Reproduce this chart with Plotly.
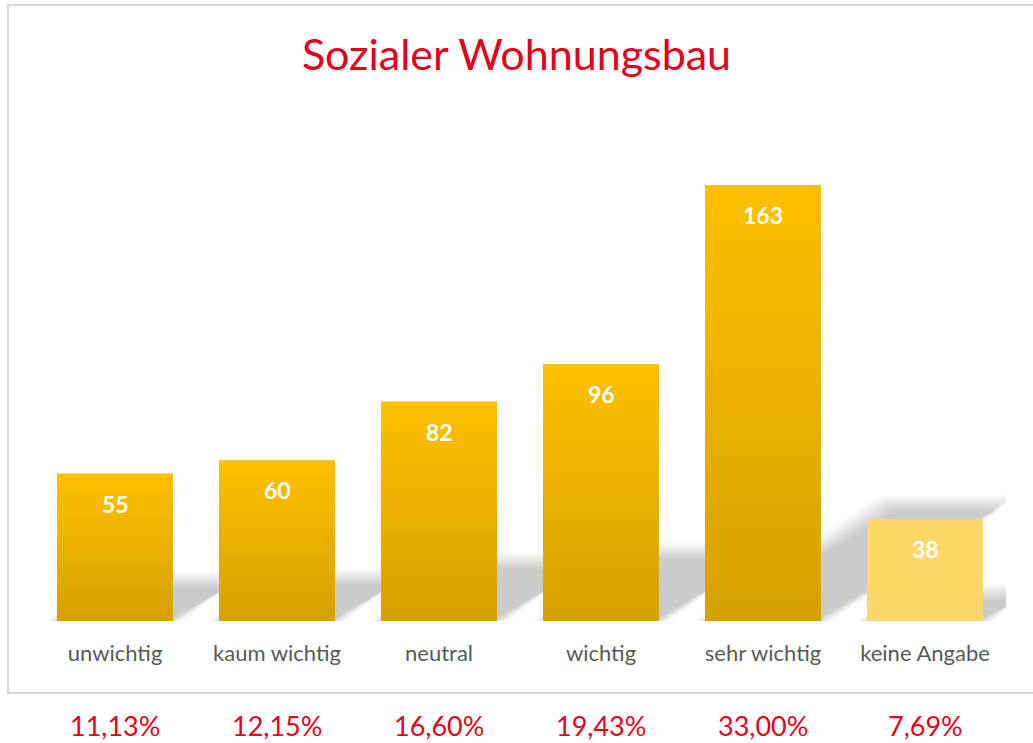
import plotly.graph_objects as go

categories = ["unwichtig", "kaum wichtig", "neutral", "wichtig", "sehr wichtig", "keine Angabe"]
values = [55, 60, 82, 96, 163, 38]
percent_labels = ["11,13%", "12,15%", "16,60%", "19,43%", "33,00%", "7,69%"]
top_colors = ["#FFC000", "#FFC000", "#FFC000", "#FFC000", "#FFC000", "#FDD767"]
bottom_colors = ["#D6A000", "#D6A000", "#D6A000", "#D6A000", "#D6A000", "#FDD767"]
title_text = "Sozialer Wohnungsbau"

RED = "#E2001A"
FONT = "Lato"

# layout geometry (pixels)
W, H = 1033, 743
L, R, T, B = 34, 27, 121, 122
plot_w = W - L - R
plot_h = H - T - B
y_max = 186.9
bar_width = 0.716
px_per_cat = plot_w / len(categories)
px_per_unit = plot_h / y_max

x_pos = list(range(len(categories)))

fig = go.Figure()

# base bars (data marks)
fig.add_trace(go.Bar(
    x=x_pos, y=values, width=bar_width,
    marker=dict(color=bottom_colors, line=dict(width=0)),
    hoverinfo="skip", showlegend=False,
))

# gradient overlay on each bar
hw = bar_width / 2
for xi, v, ct, cb in zip(x_pos, values, top_colors, bottom_colors):
    fig.add_trace(go.Scatter(
        x=[xi - hw, xi + hw, xi + hw, xi - hw, xi - hw],
        y=[0, 0, v, v, 0],
        mode="lines", fill="toself", line=dict(width=0),
        fillgradient=dict(type="vertical", colorscale=[[0, cb], [1, ct]]),
        hoverinfo="skip", showlegend=False,
    ))

# perspective shadows (style), layered to imitate blur
shadow_frac = 0.265
slope = 0.63
shapes = []
blur_px = [10, 8, 6, 4, 2, 0, -2, -4, -6]
for xi, v in zip(x_pos, values):
    sh = shadow_frac * v
    dx = sh * px_per_unit / slope / px_per_cat
    for g in blur_px:
        gx = g / px_per_cat
        gy = g / px_per_unit
        xl = xi - hw - gx
        xr = xi + hw + gx
        top = sh + gy
        path = (f"M {xl},0 L {xr},0 L {xr + dx},{top} "
                f"L {xl + dx},{top} Z")
        shapes.append(dict(type="path", path=path, xref="x", yref="y",
                           fillcolor="rgba(0,0,0,0.024)",
                           line=dict(width=0), layer="below"))

# chart border
shapes.append(dict(type="rect", xref="paper", yref="paper",
                   x0=(8 - L) / plot_w, x1=(1045 - L) / plot_w,
                   y0=(T + plot_h - 693) / plot_h, y1=(T + plot_h - 5) / plot_h,
                   line=dict(color="#D9D9D9", width=2), layer="below"))

annotations = []
for xi, v in zip(x_pos, values):
    annotations.append(dict(x=xi, y=v, xref="x", yref="y", text=f"<b>{v}</b>",
                            showarrow=False, yshift=-30,
                            font=dict(family=FONT, size=23, color="white")))
for xi, p in zip(x_pos, percent_labels):
    annotations.append(dict(x=xi, y=(T + plot_h - 725) / plot_h, xref="x", yref="paper",
                            text=p, showarrow=False, yanchor="middle",
                            font=dict(family=FONT, size=27, color=RED)))

fig.update_layout(
    width=W, height=H,
    margin=dict(l=L, r=R, t=T, b=B),
    paper_bgcolor="white", plot_bgcolor="white",
    title=dict(text=title_text, x=0.5, xref="container", xanchor="center",
               y=1 - 55 / H, yref="container", yanchor="middle",
               font=dict(family=FONT, size=43, color=RED)),
    xaxis=dict(range=[-0.5, len(categories) - 0.5], tickmode="array",
               tickvals=x_pos, ticktext=categories, showgrid=False,
               zeroline=False, showline=False, ticks="",
               ticklabelstandoff=17,
               tickfont=dict(family=FONT, size=22, color="#595959")),
    yaxis=dict(range=[0, y_max], visible=False, showgrid=False, zeroline=False),
    shapes=shapes,
    annotations=annotations,
    showlegend=False,
)

fig.write_html("out.html", config={"displayModeBar": False},
               post_script="document.body.style.margin='0';document.body.style.overflow='hidden';")
